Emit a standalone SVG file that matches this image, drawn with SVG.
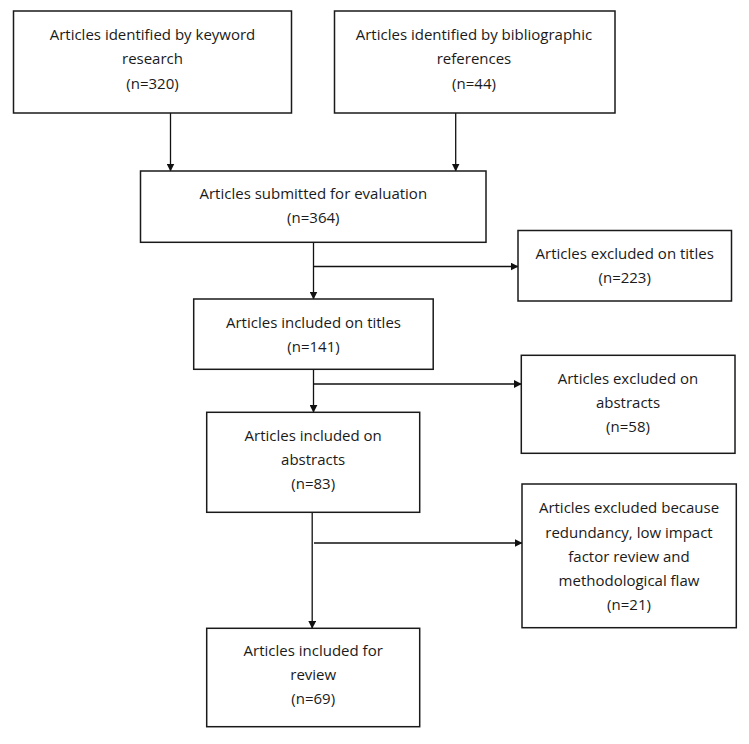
<svg xmlns="http://www.w3.org/2000/svg" width="749" height="744" viewBox="0 0 749 744">
<style>
.box{fill:#fff;stroke:#1a1a1a;stroke-width:1.5}
.t{font-family:"Open Sans","Noto Sans",sans-serif;font-size:15px;fill:#1a1a1a;text-anchor:middle}
.c{fill:none;stroke:#111;stroke-width:1.3}
</style>
<defs>
<marker id="ah" markerUnits="userSpaceOnUse" markerWidth="8" markerHeight="8" refX="7.5" refY="4" orient="auto">
<path d="M0,0 L8,4 L0,8 z" fill="#111"/>
</marker>
</defs>
<rect width="749" height="744" fill="#fff"/>
<g id="connectors">
<line class="c" x1="170.5" y1="113" x2="170.5" y2="171" marker-end="url(#ah)"/>
<line class="c" x1="455.7" y1="113" x2="455.7" y2="171" marker-end="url(#ah)"/>
<line class="c" x1="313.5" y1="242" x2="313.5" y2="299" marker-end="url(#ah)"/>
<line class="c" x1="313.5" y1="266.5" x2="518" y2="266.5" marker-end="url(#ah)"/>
<line class="c" x1="313.5" y1="369.5" x2="313.5" y2="412.3" marker-end="url(#ah)"/>
<line class="c" x1="313.5" y1="384" x2="521.3" y2="384" marker-end="url(#ah)"/>
<line class="c" x1="312.2" y1="512.3" x2="312.2" y2="628.3" marker-end="url(#ah)"/>
<line class="c" x1="314" y1="543" x2="522" y2="543" marker-end="url(#ah)"/>
</g>
<g id="n1">
<rect class="box" x="13.5" y="11" width="278" height="102"/>
<text class="t" x="152.5" y="39.5">Articles identified by keyword</text>
<text class="t" x="152.5" y="64">research</text>
<text class="t" x="152.5" y="88.5">(n=320)</text>
</g>
<g id="n2">
<rect class="box" x="334.5" y="11" width="280.5" height="102"/>
<text class="t" x="474" y="39.5">Articles identified by bibliographic</text>
<text class="t" x="474" y="64">references</text>
<text class="t" x="474" y="88.5">(n=44)</text>
</g>
<g id="n3">
<rect class="box" x="140.5" y="171" width="345.5" height="71.3"/>
<text class="t" x="313.3" y="199">Articles submitted for evaluation</text>
<text class="t" x="313.3" y="222.7">(n=364)</text>
</g>
<g id="n4">
<rect class="box" x="518" y="230.5" width="213.5" height="70.5"/>
<text class="t" x="624.7" y="259.3">Articles excluded on titles</text>
<text class="t" x="624.7" y="283">(n=223)</text>
</g>
<g id="n5">
<rect class="box" x="193.7" y="299" width="239.5" height="70.3"/>
<text class="t" x="313.5" y="327.7">Articles included on titles</text>
<text class="t" x="313.5" y="351.5">(n=141)</text>
</g>
<g id="n6">
<rect class="box" x="521.3" y="355.3" width="213.7" height="98"/>
<text class="t" x="628" y="384">Articles excluded on</text>
<text class="t" x="628" y="408">abstracts</text>
<text class="t" x="628" y="432">(n=58)</text>
</g>
<g id="n7">
<rect class="box" x="206.7" y="412.3" width="213" height="100"/>
<text class="t" x="313.2" y="441">Articles included on</text>
<text class="t" x="313.2" y="465">abstracts</text>
<text class="t" x="313.2" y="489">(n=83)</text>
</g>
<g id="n8">
<rect class="box" x="522" y="484" width="214.3" height="143.7"/>
<text class="t" x="629" y="513.3">Articles excluded because</text>
<text class="t" x="629" y="537.5">redundancy, low impact</text>
<text class="t" x="629" y="561.7">factor review and</text>
<text class="t" x="629" y="585.5">methodological flaw</text>
<text class="t" x="629" y="609.5">(n=21)</text>
</g>
<g id="n9">
<rect class="box" x="206.7" y="628.3" width="213" height="98.4"/>
<text class="t" x="313.2" y="656.3">Articles included for</text>
<text class="t" x="313.2" y="680">review</text>
<text class="t" x="313.2" y="704">(n=69)</text>
</g>
</svg>
